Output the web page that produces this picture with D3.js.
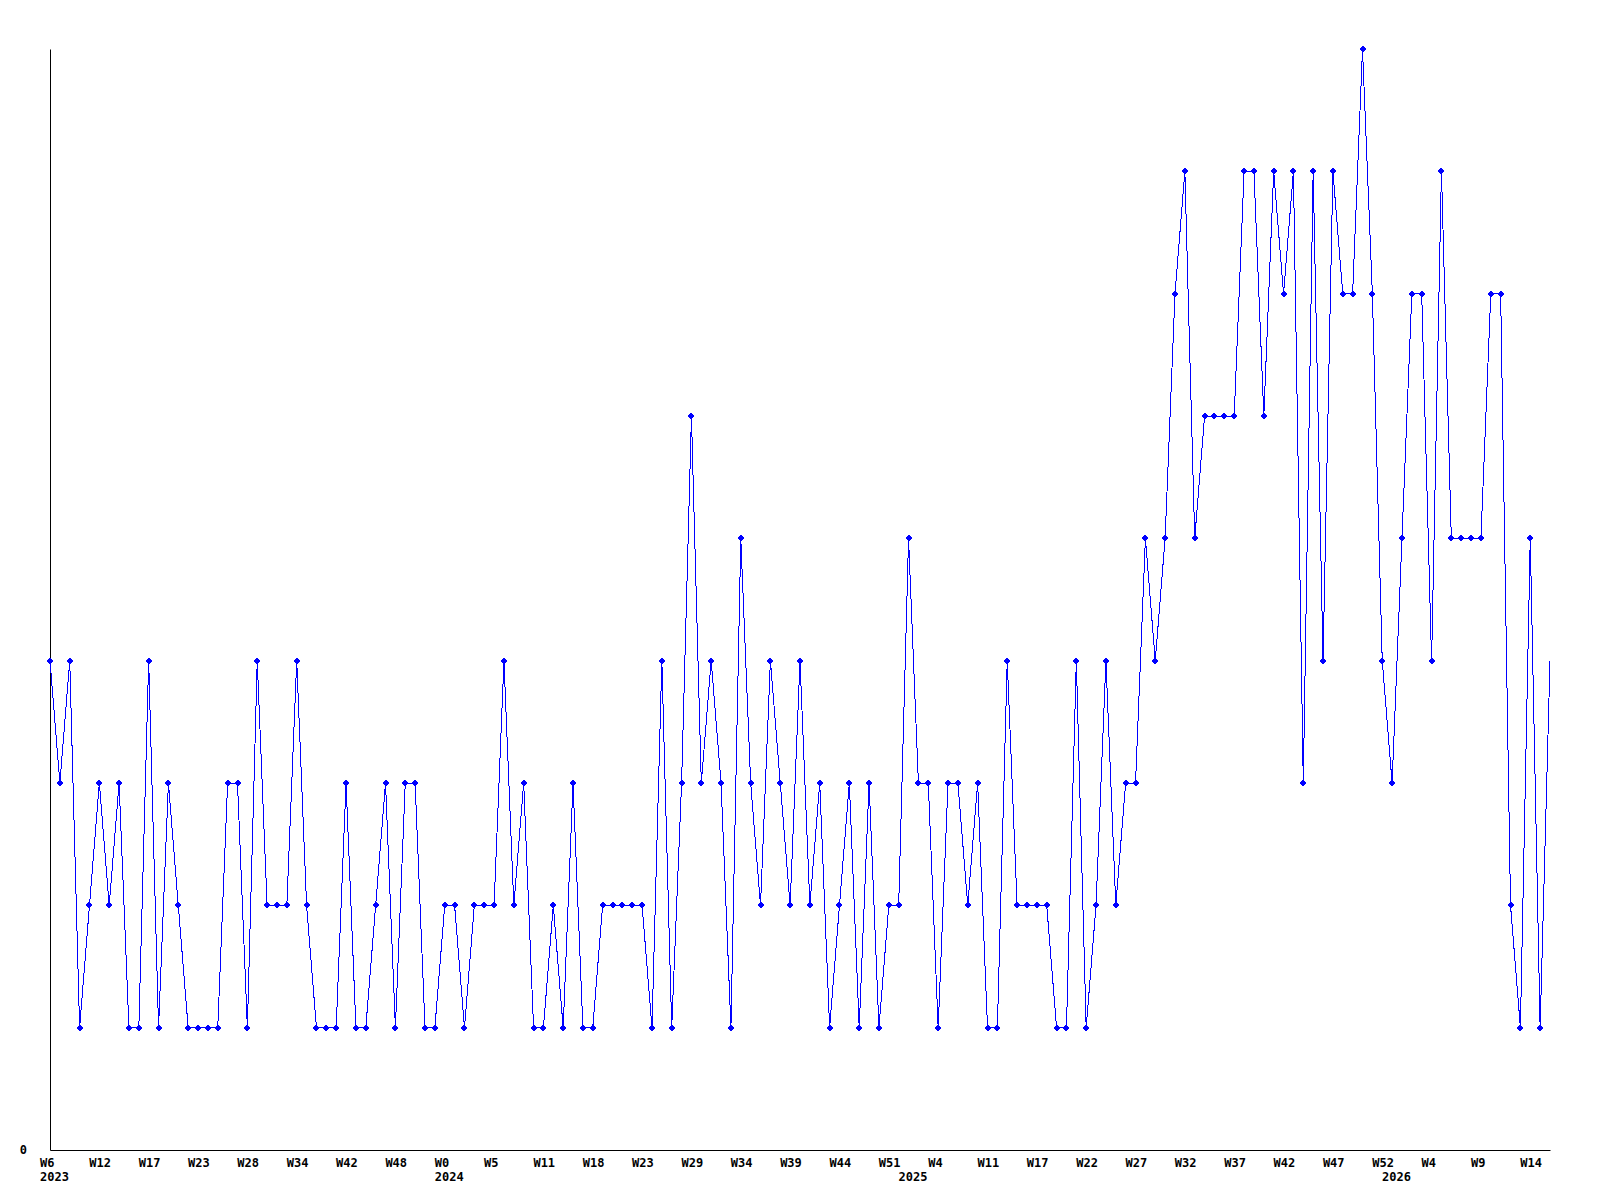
<!DOCTYPE html>
<html>
<head>
  <meta charset="utf-8">
  <title>Weekly chart</title>
  <script src="https://cdn.jsdelivr.net/npm/d3@7"></script>
  <style>
    body { margin: 0; background: #fff; }
    text { font-family: "DejaVu Sans Mono", monospace; font-weight: bold; font-size: 12px; fill: #000; }
  </style>
</head>
<body>
  <script>
  // one value per week
  var values = [
    4,3,4,1,2,3,2,3,1,1,
    4,1,3,2,1,1,1,1,3,3,
    1,4,2,2,2,4,2,1,1,1,
    3,1,1,2,3,1,3,3,1,1,
    2,2,1,2,2,2,4,2,3,1,
    1,2,1,3,1,1,2,2,2,2,
    2,1,4,1,3,6,3,4,3,1,
    5,3,2,4,3,2,4,2,3,1,
    2,3,1,3,1,2,2,5,3,3,
    1,3,3,2,3,1,1,4,2,2,
    2,2,1,1,4,1,2,4,2,3,
    3,5,4,5,7,8,5,6,6,6,
    6,8,8,6,8,7,8,3,8,4,
    8,7,7,9,7,4,3,5,7,7,
    4,8,5,5,5,5,7,7,2,1,
    5,1,4
  ];

  // week labels, one every 5 points
  var weekLabels = ["W6","W12","W17","W23","W28","W34","W42","W48","W0","W5",
    "W11","W18","W23","W29","W34","W39","W44","W51","W4","W11",
    "W17","W22","W27","W32","W37","W42","W47","W52","W4","W9","W14"];
  var weekTicks = d3.range(0, values.length, 5);

  // year labels and the point where each year starts
  var yearLabels = ["2023", "2024", "2025", "2026"];
  var yearTicks = [0, 40, 87, 136];

  var breite = 1600, hoehe = 1200;
  var plotLeft = 50, plotRight = 1550, plotTop = 49, plotBottom = 1150;

  var svg = d3.select("body").append("svg")
      .attr("width", breite)
      .attr("height", hoehe);

  var x = d3.scaleLinear().domain([0, values.length - 1]).range([plotLeft, plotRight]);
  var y = d3.scaleLinear().domain([0, 9]).range([plotBottom, plotTop]);

  // x axis with week labels
  var xAxis = svg.append("g")
      .attr("transform", "translate(0," + plotBottom + ")")
      .call(d3.axisBottom(x).tickValues(weekTicks).tickSize(0).tickSizeOuter(0)
        .tickFormat(function(d, i) { return weekLabels[i]; }));
  xAxis.select(".domain").attr("stroke", "#000");
  xAxis.selectAll("text")
      .attr("text-anchor", "start")
      .attr("x", -10.5)
      .attr("y", 17)
      .attr("dy", null);
  xAxis.attr("font-family", null).attr("font-size", null);

  // second row: years
  var yearAxis = svg.append("g")
      .attr("transform", "translate(0," + plotBottom + ")")
      .call(d3.axisBottom(x).tickValues(yearTicks).tickSize(0)
        .tickFormat(function(d, i) { return yearLabels[i]; }));
  yearAxis.select(".domain").remove();
  yearAxis.selectAll("text")
      .attr("text-anchor", "start")
      .attr("x", -10.5)
      .attr("y", 31)
      .attr("dy", null);
  yearAxis.attr("font-family", null).attr("font-size", null);

  // y axis, only the zero is labelled
  var yAxis = svg.append("g")
      .attr("transform", "translate(" + plotLeft + ",0)")
      .call(d3.axisLeft(y).tickValues([0]).tickSize(0).tickSizeOuter(0)
        .tickFormat(d3.format("d")));
  yAxis.select(".domain").attr("stroke", "#000");
  yAxis.selectAll("text").attr("x", -23);
  yAxis.attr("font-family", null).attr("font-size", null);

  var line = d3.line()
      .x(function(d, i) { return x(i); })
      .y(function(d) { return y(d); });

  svg.append("path")
      .datum(values)
      .attr("fill", "none")
      .attr("stroke", "#0000ff")
      .attr("stroke-width", 1)
      .attr("shape-rendering", "crispEdges")
      .attr("d", line);

  // small cross markers, the last (unfinished) week has none
  svg.selectAll(".dot")
      .data(values.slice(0, values.length - 1))
      .enter().append("path")
      .attr("class", "dot")
      .attr("fill", "#0000ff")
      .attr("shape-rendering", "crispEdges")
      .attr("transform", function(d, i) { return "translate(" + Math.round(x(i)) + "," + Math.round(y(d)) + ")"; })
      .attr("d", "M-3,-1h6v2h-6z M-1,-3h2v6h-2z M-2,-2h4v4h-4z");
  </script>
</body>
</html>
